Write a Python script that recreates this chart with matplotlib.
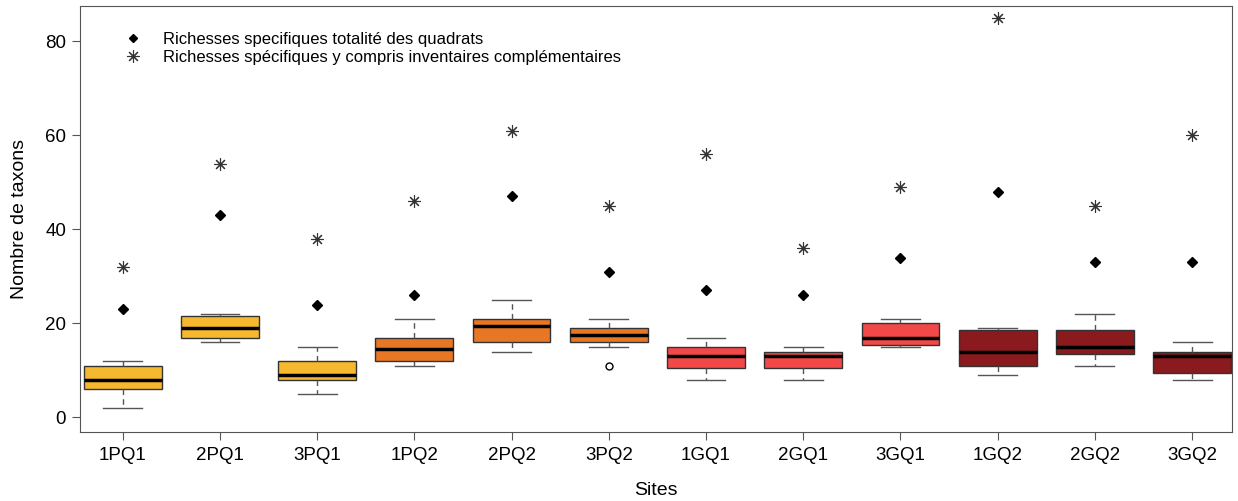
import matplotlib.pyplot as plt
from matplotlib.lines import Line2D

plt.rcParams['font.family'] = ['Liberation Sans', 'DejaVu Sans']

sites = ['1PQ1', '2PQ1', '3PQ1', '1PQ2', '2PQ2', '3PQ2',
         '1GQ1', '2GQ1', '3GQ1', '1GQ2', '2GQ2', '3GQ2']

# box stats
whislo = [2, 16, 5, 11, 14, 15, 8, 8, 15, 9, 11, 8]
q1 = [6, 17, 8, 12, 16, 16, 10.5, 10.5, 15.5, 11, 13.5, 9.5]
med = [8, 19, 9, 14.5, 19.5, 17.5, 13, 13, 17, 14, 15, 13]
q3 = [11, 21.5, 12, 17, 21, 19, 15, 14, 20, 18.5, 18.5, 14]
whishi = [12, 22, 15, 21, 25, 21, 17, 15, 21, 19, 22, 16]
fliers = [[], [], [], [], [], [11], [], [], [], [], [], []]

# total species richness (all quadrats) and incl. complementary inventories
rich_total = [23, 43, 24, 26, 47, 31, 27, 26, 34, 48, 33, 33]
rich_compl = [32, 54, 38, 46, 61, 45, 56, 36, 49, 85, 45, 60]

colors = ['#F5B82E'] * 3 + ['#E87725'] * 3 + ['#F24848'] * 3 + ['#8A1A1E'] * 3

stats = []
for i, s in enumerate(sites):
    stats.append(dict(label=s, whislo=whislo[i], q1=q1[i], med=med[i],
                      q3=q3[i], whishi=whishi[i], fliers=fliers[i]))

fig = plt.figure(figsize=(12.38, 5.01), dpi=100)
ax = fig.add_axes([0.0646, 0.1377, 0.9305, 0.8503])

pos = list(range(1, len(sites) + 1))
bp = ax.bxp(stats, positions=pos, widths=0.8, patch_artist=True,
            boxprops=dict(edgecolor='#333333', linewidth=1.0),
            medianprops=dict(color='black', linewidth=2.5),
            whiskerprops=dict(color='#555555', linestyle=(0, (4, 3)), linewidth=1.0),
            capprops=dict(color='#555555', linewidth=1.0),
            flierprops=dict(marker='o', markerfacecolor='white',
                            markeredgecolor='black', markersize=5),
            capwidths=0.4)
for patch, c in zip(bp['boxes'], colors):
    patch.set_facecolor(c)

ax.plot(pos, rich_total, linestyle='none', marker='D', color='black', markersize=5)
ax.plot(pos, rich_compl, linestyle='none', marker=(8, 2, 0), markersize=9,
        markeredgecolor='#333333', markeredgewidth=0.8)

ax.set_xlim(0.56, 12.41)
ax.set_ylim(-3.1, 87.5)
ax.set_yticks([0, 20, 40, 60, 80])
ax.set_xticks(pos)
ax.set_xticklabels(sites)
ax.tick_params(axis='both', labelsize=13.5, length=6, color='#555555')
ax.tick_params(axis='x', pad=5)
ax.tick_params(axis='y', pad=4)
for sp in ax.spines.values():
    sp.set_color('#555555')

ax.set_xlabel('Sites', fontsize=14, labelpad=13)
ax.set_ylabel('Nombre de taxons', fontsize=14, labelpad=12)

handles = [
    Line2D([], [], linestyle='none', marker='D', color='black', markersize=4),
    Line2D([], [], linestyle='none', marker=(8, 2, 0), markersize=9,
           markeredgecolor='#333333', markeredgewidth=0.8),
]
ax.legend(handles, ['Richesses specifiques totalité des quadrats',
                    'Richesses spécifiques y compris inventaires complémentaires'],
          loc='upper left', bbox_to_anchor=(0.1007, 0.937),
          bbox_transform=fig.transFigure, frameon=False,
          fontsize=12, handlelength=1.0, handletextpad=1.3, labelspacing=0.2,
          borderpad=0, borderaxespad=0)

fig.savefig('out.png', dpi=100)
